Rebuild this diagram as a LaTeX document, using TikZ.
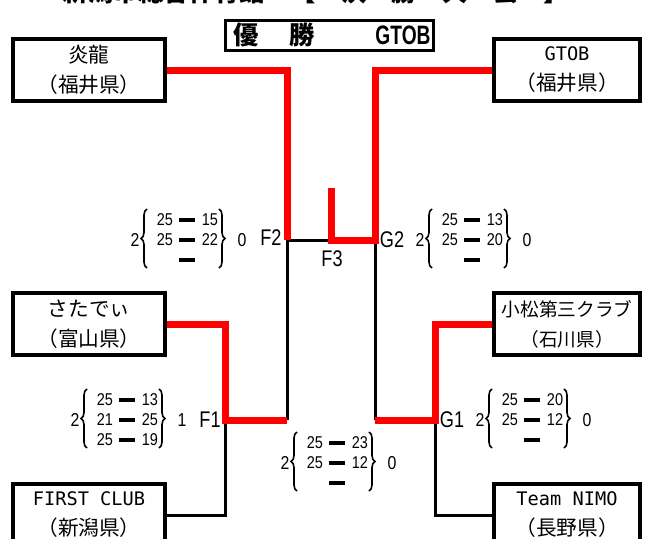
\documentclass[tikz,border=0pt]{standalone}
\usepackage{fontspec}
\setmainfont{Noto Sans CJK JP}
\newfontfamily\monof{DejaVu Sans Mono}
\newfontfamily\numf[FakeStretch=0.85]{Liberation Sans}
\newfontfamily\labf[FakeStretch=0.8]{Liberation Sans}
\newfontfamily\titlef[FakeStretch=0.72]{Liberation Sans}
\usetikzlibrary{decorations.pathreplacing,calc}
\tikzset{
  team/.style={draw, line width=3pt, minimum height=47pt, align=center,
    font=\fontsize{15.5}{22.5}\selectfont, inner sep=0pt},
  redline/.style={draw=red, line width=5.25pt, line join=miter},
  blkline/.style={draw=black, line width=2.25pt},
  numtxt/.style={font=\numf\fontsize{12.8}{13}\selectfont, inner sep=0pt},
  outtxt/.style={font=\numf\fontsize{14}{15}\selectfont, inner sep=0pt},
  lab/.style={font=\labf\fontsize{17}{18}\selectfont, inner sep=0pt},
  bardash/.style={line width=2.6pt},
  brc/.style={decorate, decoration={brace, amplitude=4.5pt}, line width=1.2pt},
  titletxt/.style={font=\bfseries\fontsize{19}{20}\selectfont, inner sep=0pt},
}
\newcommand\scoreblk[9]{%
  \node[outtxt] (#1-l) at (#1) {#2};
  \draw[brc] ($(#1)+(12,28)$) -- ($(#1)+(12,-31)$);
  \node[numtxt] (#1-a1) at ($(#1)+(30,-20)$) {#3};
  \node[numtxt] (#1-b1) at ($(#1)+(75,-20)$) {#4};
  \node[numtxt] (#1-a2) at ($(#1)+(30,0)$) {#5};
  \node[numtxt] (#1-b2) at ($(#1)+(75,0)$) {#6};
  \node[numtxt] (#1-a3) at ($(#1)+(30,20)$) {#7};
  \node[numtxt] (#1-b3) at ($(#1)+(75,20)$) {#8};
  \draw[bardash] ($(#1)+(44,-20)$) -- ($(#1)+(60,-20)$);
  \draw[bardash] ($(#1)+(44,0)$) -- ($(#1)+(60,0)$);
  \draw[bardash] ($(#1)+(44,20)$) -- ($(#1)+(60,20)$);
  \draw[brc] ($(#1)+(84,-31)$) -- ($(#1)+(84,28)$);
  \node[outtxt] (#1-r) at ($(#1)+(107,0)$) {#9};
}
\begin{document}
\begin{tikzpicture}[x=0.75pt, y=-0.75pt]
\useasboundingbox (0,0) rectangle (651,539);
\fill[white] (0,0) rectangle (651,539);
\clip (0,0) rectangle (651,539);

% clipped heading (only its lower edge is visible)
\node[font=\bfseries\fontsize{19}{20}\selectfont, anchor=base, inner sep=0pt] (ttl) at (316,2) {新潟市総合体育館　【　決　勝　大　会　】};

% champion box
\node[draw, line width=2.25pt, minimum width=156pt, minimum height=22.5pt, inner sep=0pt] (tb) at (329,35) {};
\node[titletxt] (t1) at (246,35) {優};
\node[titletxt] (t2) at (302,35) {勝};
\node[titletxt, font=\titlef\bfseries\fontsize{20}{20}\selectfont] (t3) at (403,35) {GTOB};

% teams
\node[team, minimum width=114pt] (yr) at (89,70) {炎龍\\（福井県）};
\node[team, minimum width=109.5pt] (gt) at (567,70) {{\monof\fontsize{14}{22.5}\selectfont GTOB}\\（福井県）};
\node[team, minimum width=114pt] (st) at (89,324) {さたでぃ\\（富山県）};
\node[team, minimum width=109.5pt, font=\fontsize{14}{22.5}\selectfont] (km) at (567,324) {小松第三クラブ\\（石川県）};
\node[team, minimum width=114pt] (fc) at (89,515) {{\monof\fontsize{14}{22.5}\selectfont FIRST CLUB}\\（新潟県）};
\node[team, minimum width=109.5pt] (tn) at (567,515) {{\monof\fontsize{14}{22.5}\selectfont Team NIMO}\\（長野県）};

% junctions
\coordinate (F2) at (287,240);
\coordinate (G2) at (375,240);
\coordinate (F3t) at (331,188);
\coordinate (F3) at (331,240);
\coordinate (F1) at (225,420);
\coordinate (F1r) at (287,420);
\coordinate (G1) at (435,420);
\coordinate (G1l) at (375,420);

% black connectors
\draw[blkline] (F2) -- (F3);
\draw[blkline] (F2) -- (F1r);
\draw[blkline] (G2) -- (G1l);
\draw[blkline] (F1) |- (fc.east);
\draw[blkline] (G1) |- (tn.west);

% red (winner) connectors
\draw[redline] (yr.east) -| (F2);
\draw[redline] (gt.west) -| (G2) -- (F3) -- (F3t);
\draw[redline] (st.east) -| (F1) -- (F1r);
\draw[redline] (km.west) -| (G1) -- (G1l);

% match labels
\node[lab] (lF2) at (271,238) {F2};
\node[lab] (lG2) at (392,240) {G2};
\node[lab] (lF3) at (332,259) {F3};
\node[lab] (lF1) at (210,420) {F1};
\node[lab] (lG1) at (452,420) {G1};

% scores
\coordinate (sF2) at (135,240);
\coordinate (sG2) at (420,240);
\coordinate (sF1) at (75,420);
\coordinate (sF3) at (285,463);
\coordinate (sG1) at (480,420);
\scoreblk{sF2}{2}{25}{15}{25}{22}{}{}{0}
\scoreblk{sG2}{2}{25}{13}{25}{20}{}{}{0}
\scoreblk{sF1}{2}{25}{13}{21}{25}{25}{19}{1}
\scoreblk{sF3}{2}{25}{23}{25}{12}{}{}{0}
\scoreblk{sG1}{2}{25}{20}{25}{12}{}{}{0}
\end{tikzpicture}
\end{document}
